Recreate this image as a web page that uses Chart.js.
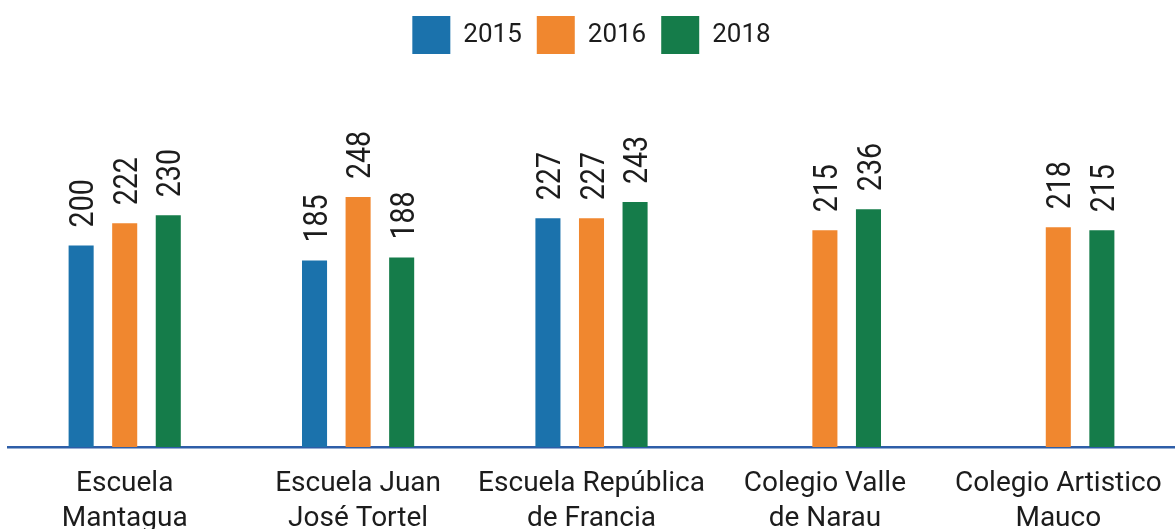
<!DOCTYPE html>
<html lang="es">
<head>
<meta charset="utf-8">
<title>Escuelas 2015 - 2018</title>
<script src="https://cdn.jsdelivr.net/npm/chart.js@4.4.0/dist/chart.umd.min.js"></script>
<style>
  html, body { margin: 0; padding: 0; background: #fff; }
  #wrap { width: 1175px; height: 529px; position: relative; }
</style>
</head>
<body>
<div id="wrap"><canvas id="chart"></canvas></div>
<script>
// categories (two-line labels) and series
const schools = [
  ["Escuela", "Mantagua"],
  ["Escuela Juan", "José Tortel"],
  ["Escuela República", "de Francia"],
  ["Colegio Valle", "de Narau"],
  ["Colegio Artistico", "Mauco"]
];
const years = ["2015", "2016", "2018"];
const v2015 = [200, 185, 227, null, null];
const v2016 = [222, 248, 227, 215, 218];
const v2018 = [230, 188, 243, 236, 215];

const colors = ["#1b72ac", "#f0872f", "#157c4a"];
const textColor = "#1c1c1c";

Chart.defaults.font.family = "Roboto, 'DejaVu Sans', sans-serif";

// rotated value labels above each bar
const valueLabels = {
  id: "valueLabels",
  afterDatasetsDraw(chart) {
    const ctx = chart.ctx;
    const size = 34;
    ctx.save();
    ctx.fillStyle = textColor;
    ctx.font = size + "px Roboto";
    ctx.textAlign = "left";
    ctx.textBaseline = "alphabetic";
    chart.data.datasets.forEach((ds, i) => {
      const meta = chart.getDatasetMeta(i);
      meta.data.forEach((bar, j) => {
        const v = ds.data[j];
        if (v == null) return;
        ctx.save();
        ctx.translate(bar.x, bar.y - 18);
        ctx.rotate(-Math.PI / 2);
        ctx.scale(0.84, 1); // narrower digits like the original
        ctx.fillText(String(v), 0, size * 0.711 / 2);
        ctx.restore();
      });
    });
    ctx.restore();
  }
};

const series = [v2015, v2016, v2018];

new Chart(document.getElementById("chart"), {
  type: "bar",
  data: {
    labels: schools,
    datasets: years.map((y, i) => ({
      label: y,
      data: series[i],
      backgroundColor: colors[i],
      borderWidth: 0,
      barPercentage: 0.575,
      categoryPercentage: 0.56
    }))
  },
  options: {
    responsive: true,
    maintainAspectRatio: false,
    animation: false,
    layout: { padding: { top: 1, left: 8, right: 0, bottom: 0 } },
    plugins: {
      legend: {
        position: "top",
        labels: {
          boxWidth: 38,
          boxHeight: 38,
          padding: 15,
          color: textColor,
          font: { size: 26 }
        }
      },
      tooltip: { enabled: false }
    },
    scales: {
      x: {
        z: 1,
        grid: { display: false, drawTicks: false },
        border: { display: true, color: "#2e5ea8", width: 2.5 },
        ticks: {
          color: textColor,
          font: { size: 28, lineHeight: 1.25 },
          padding: 19,
          maxRotation: 0,
          autoSkip: false
        },
        afterFit(scale) {
          scale.height = 82;       // labels run off the bottom like the original
          scale.paddingLeft = 0;   // axis line reaches the right edge
          scale.paddingRight = 0;
        }
      },
      y: { display: false, min: 0, max: 380 }
    }
  },
  plugins: [valueLabels]
});
</script>
</body>
</html>
